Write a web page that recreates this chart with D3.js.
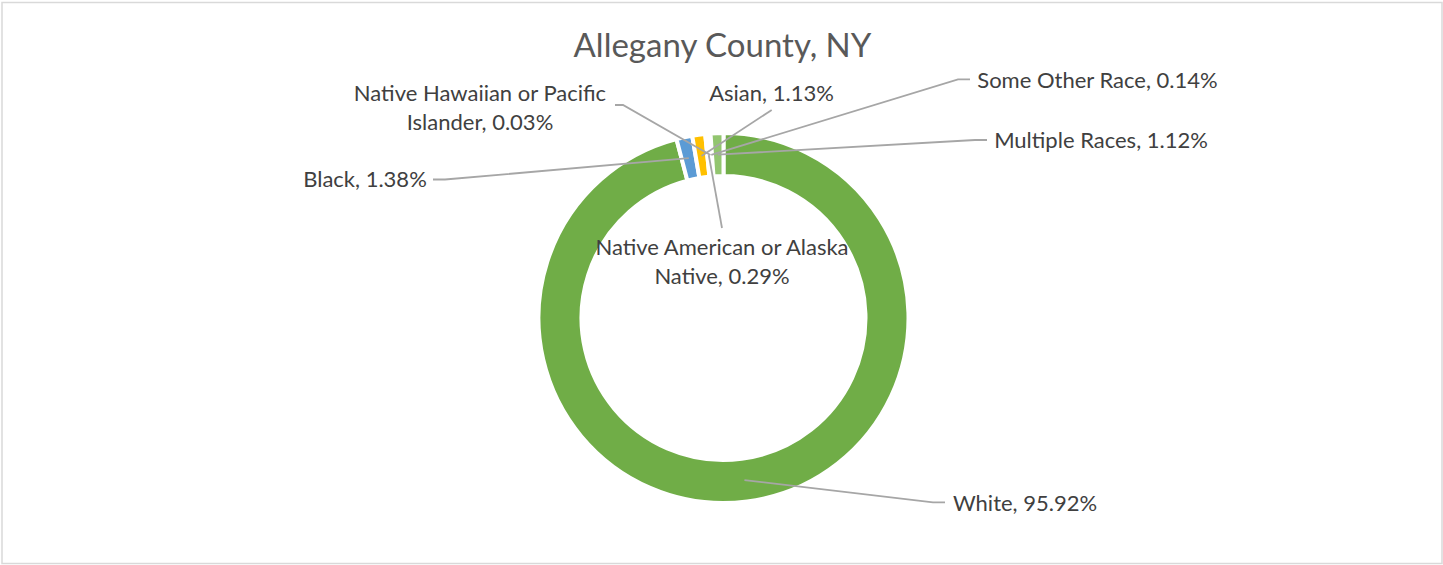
<!DOCTYPE html>
<html>
<head>
<meta charset="utf-8">
<script src="https://cdn.jsdelivr.net/npm/d3@7"></script>
<style>
  html, body { margin: 0; padding: 0; background: #fff; }
  svg { display: block; }
</style>
</head>
<body>
<svg id="chart" width="1443" height="565"></svg>
<script>
// ---- data ----
const title = "Allegany County, NY";
const categories = ["White", "Black", "Asian", "Native American or Alaska Native",
  "Native Hawaiian or Pacific Islander", "Some Other Race", "Multiple Races"];
const values = [95.92, 1.38, 1.13, 0.29, 0.03, 0.14, 1.12];
const valueLabels = ["95.92%", "1.38%", "1.13%", "0.29%", "0.03%", "0.14%", "1.12%"];
const colors = ["#70AD47", "#5B9BD5", "#FFC000", "#A5A5A5", "#4472C4", "#ED7D31", "#92C56F"];

// ---- layout (label placement, not data) ----
const labelLayout = {
  "White": { lines: ["White, 95.92%"], x: 1025, y: 510.7, leader: [[945, 502.3], [933, 502.3]] },
  "Black": { lines: ["Black, 1.38%"], x: 365, y: 186.7, leader: [[433, 179.5], [445, 179.5]] },
  "Asian": { lines: ["Asian, 1.13%"], x: 771.5, y: 100.7, leader: [[771.7, 110]] },
  "Native American or Alaska Native": { lines: ["Native American or Alaska", "Native, 0.29%"], x: 722, y: 255, leader: [[722, 228]] },
  "Native Hawaiian or Pacific Islander": { lines: ["Native Hawaiian or Pacific", "Islander, 0.03%"], x: 480, y: 100.7, leader: [[615, 105], [623, 105]] },
  "Some Other Race": { lines: ["Some Other Race, 0.14%"], x: 1097.5, y: 88.3, leader: [[970, 79.3], [958, 79.3]] },
  "Multiple Races": { lines: ["Multiple Races, 1.12%"], x: 1101, y: 148.3, leader: [[987, 140], [975, 140]] }
};

const W = 1443, H = 565;
const cx = 723.5, cy = 318, rOuter = 185, rInner = 142;
const svg = d3.select("#chart");

// chart border
svg.append("rect")
  .attr("x", 2).attr("y", 2.5).attr("width", 1440).attr("height", 561)
  .attr("fill", "#fff").attr("stroke", "#D9D9D9").attr("stroke-width", 1.5);

// title
svg.append("text")
  .attr("x", 722.5).attr("y", 56.7)
  .attr("text-anchor", "middle")
  .attr("font-family", "Lato, Carlito, Calibri, sans-serif")
  .attr("font-size", 33)
  .attr("fill", "#595959")
  .text(title);

const data = categories.map((c, i) => ({ cat: c, value: values[i], color: colors[i], label: valueLabels[i] }));
const pie = d3.pie().sort(null).value(d => d.value).startAngle(0).endAngle(2 * Math.PI);
const arcs = pie(data);
const arc = d3.arc().innerRadius(rInner).outerRadius(rOuter);

const g = svg.append("g").attr("transform", `translate(${cx},${cy})`);
g.selectAll("path.slice")
  .data(arcs)
  .join("path")
  .attr("class", "slice")
  .attr("d", arc)
  .attr("fill", d => d.data.color)
  .attr("stroke", "#fff")
  .attr("stroke-width", 4)
  .attr("stroke-linejoin", "miter");

// leader lines
const line = d3.line();
arcs.forEach(a => {
  const L = labelLayout[a.data.cat];
  const c = arc.centroid(a);
  const pts = L.leader.map(p => p.slice());
  pts.push([cx + c[0], cy + c[1]]);
  svg.append("path")
    .attr("d", line(pts))
    .attr("fill", "none")
    .attr("stroke", "#A6A6A6")
    .attr("stroke-width", 1.8);
});

// labels
arcs.forEach(a => {
  const L = labelLayout[a.data.cat];
  const t = svg.append("text")
    .attr("text-anchor", "middle")
    .attr("font-family", "Lato, Carlito, Calibri, sans-serif")
    .attr("font-size", 22)
    .attr("fill", "#404040");
  L.lines.forEach((ln, i) => {
    t.append("tspan").attr("x", L.x).attr("y", L.y + i * 29.3).text(ln);
  });
});
</script>
</body>
</html>
